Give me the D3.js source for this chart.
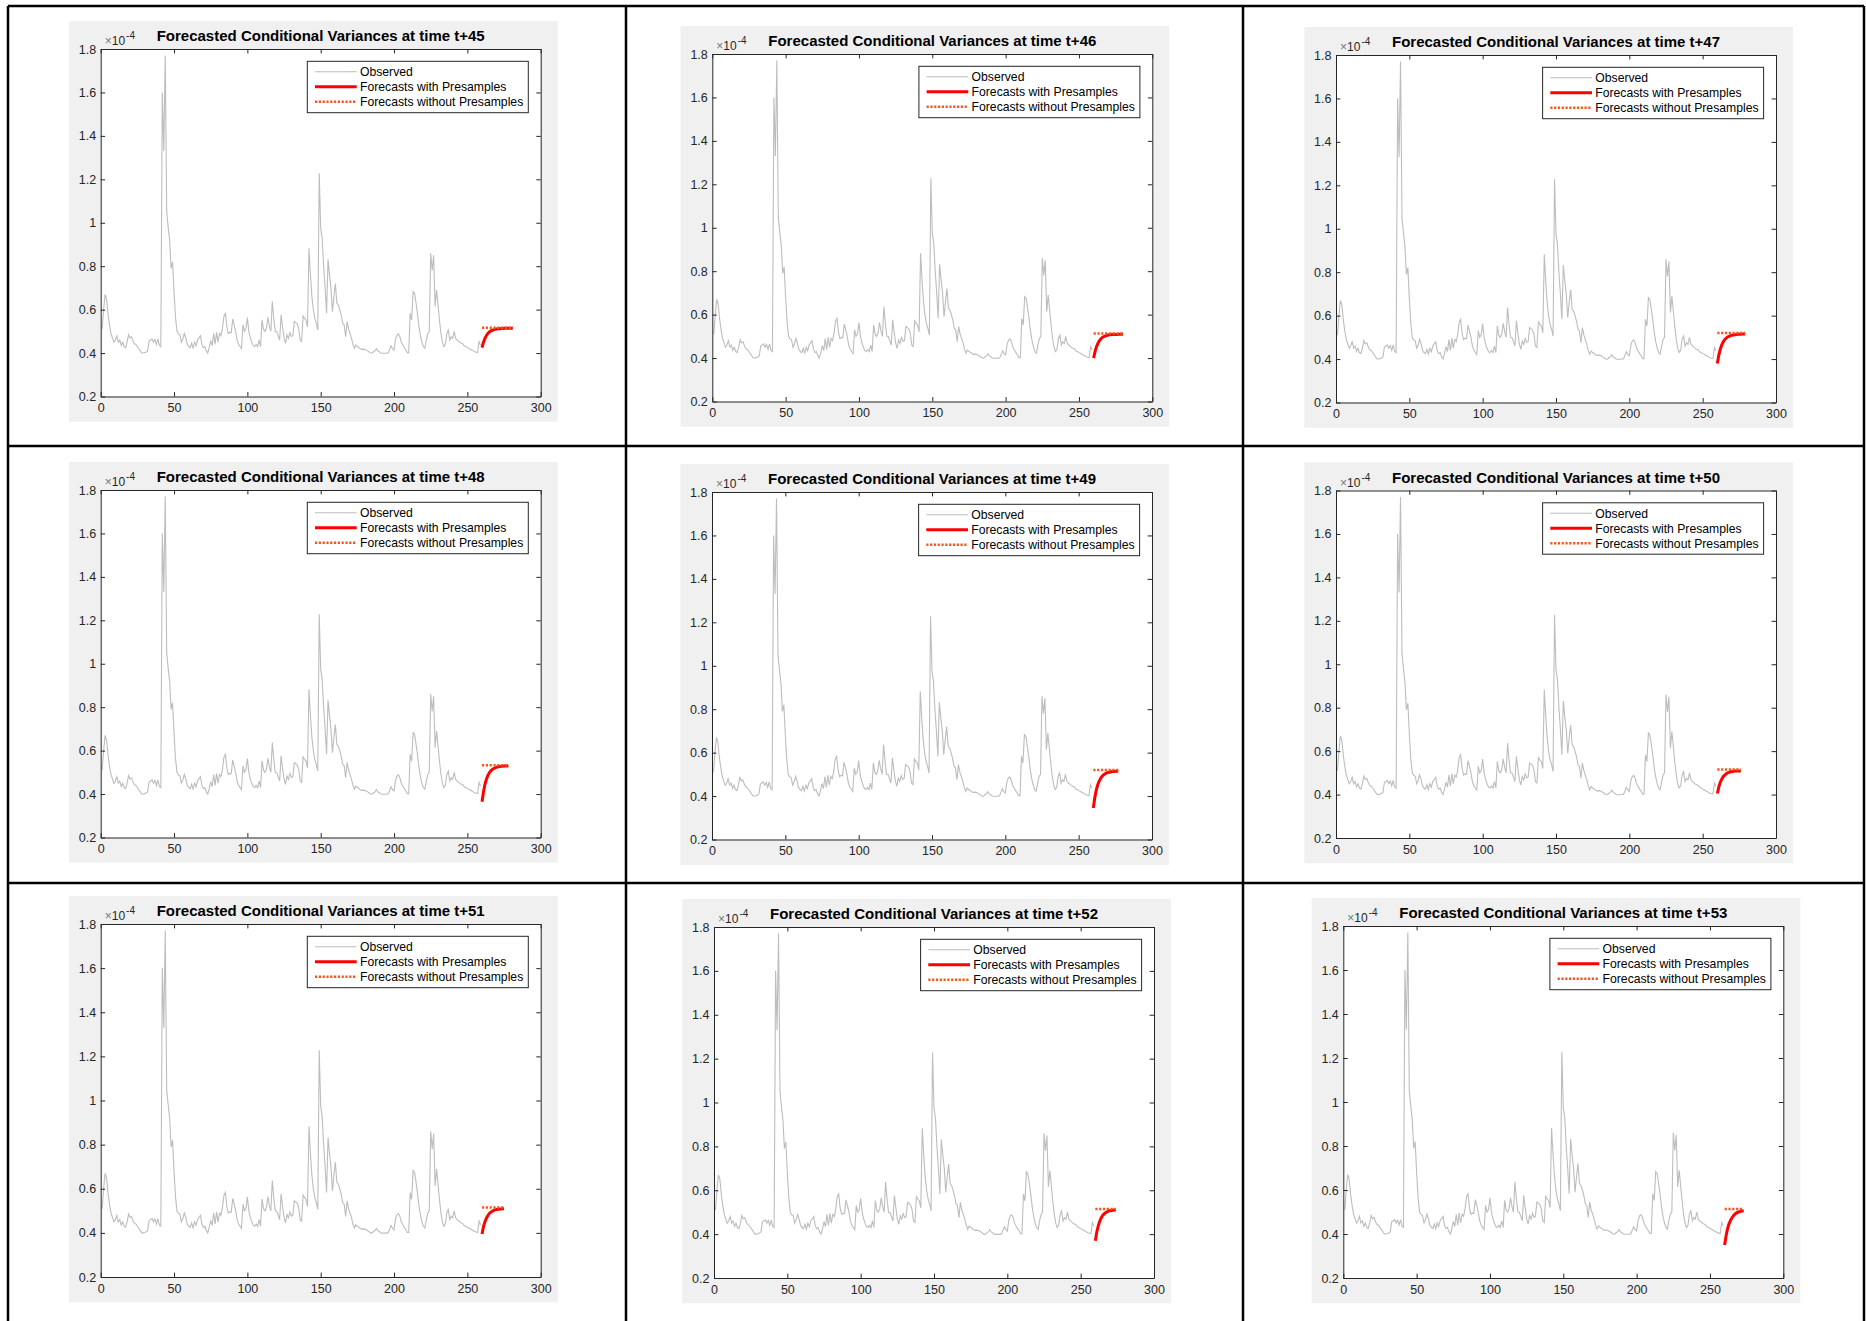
<!DOCTYPE html>
<html>
<head>
<meta charset="utf-8">
<script src="https://cdn.jsdelivr.net/npm/d3@7"></script>
<style>
  html, body { margin: 0; padding: 0; background: #fff; }
  svg { display: block; font-family: "Liberation Sans", Arial, Helvetica, sans-serif; }
</style>
</head>
<body>
<svg id="chart" width="1866" height="1321"></svg>
<script>
// ======================
// 1. DATA (values in units of 1e-4)
// ======================
// observed conditional variances, t = 1..259
const observed = [
  0.51, 0.60, 0.67, 0.65, 0.58, 0.53, 0.49, 0.47, 0.45, 0.46,
  0.48, 0.45, 0.46, 0.435, 0.45, 0.43, 0.425, 0.45, 0.485, 0.47,
  0.475, 0.455, 0.443, 0.44, 0.43, 0.42, 0.41, 0.40, 0.40, 0.402,
  0.405, 0.41, 0.455, 0.46, 0.465, 0.45, 0.463, 0.44, 0.465, 0.435,
  0.43, 1.60, 1.33, 1.77, 1.05, 0.98, 0.92, 0.79, 0.82, 0.68,
  0.565, 0.50, 0.488, 0.485, 0.45, 0.465, 0.49, 0.47, 0.44, 0.43,
  0.425, 0.445, 0.423, 0.45, 0.434, 0.46, 0.47, 0.48, 0.44, 0.425,
  0.43, 0.41, 0.40, 0.425, 0.457, 0.434, 0.49, 0.44, 0.495, 0.45,
  0.49, 0.48, 0.514, 0.57, 0.583, 0.52, 0.49, 0.495, 0.494, 0.556,
  0.53, 0.50, 0.46, 0.44, 0.43, 0.42, 0.53, 0.50, 0.51, 0.563,
  0.50, 0.47, 0.45, 0.434, 0.43, 0.44, 0.43, 0.46, 0.43, 0.553,
  0.51, 0.50, 0.514, 0.565, 0.525, 0.50, 0.637, 0.56, 0.50, 0.499,
  0.48, 0.46, 0.576, 0.52, 0.47, 0.445, 0.483, 0.468, 0.494, 0.476,
  0.48, 0.545, 0.54, 0.534, 0.514, 0.46, 0.453, 0.571, 0.56, 0.552,
  0.52, 0.882, 0.76, 0.66, 0.598, 0.56, 0.537, 0.506, 1.228, 0.974,
  0.928, 0.80, 0.70, 0.583, 0.832, 0.76, 0.70, 0.59, 0.66, 0.72,
  0.63, 0.621, 0.60, 0.575, 0.537, 0.53, 0.475, 0.545, 0.51, 0.49,
  0.468, 0.44, 0.422, 0.437, 0.43, 0.426, 0.42, 0.417, 0.418, 0.417,
  0.414, 0.41, 0.405, 0.40, 0.399, 0.406, 0.41, 0.42, 0.41, 0.406,
  0.40, 0.399, 0.399, 0.399, 0.40, 0.40, 0.417, 0.433, 0.42, 0.414,
  0.463, 0.483, 0.488, 0.475, 0.45, 0.437, 0.425, 0.415, 0.402, 0.402,
  0.583, 0.552, 0.683, 0.675, 0.63, 0.58, 0.522, 0.48, 0.45, 0.43,
  0.422, 0.46, 0.49, 0.50, 0.86, 0.78, 0.85, 0.614, 0.69, 0.621,
  0.55, 0.49, 0.45, 0.43, 0.44, 0.49, 0.506, 0.46, 0.475, 0.468,
  0.50, 0.468, 0.46, 0.455, 0.448, 0.445, 0.442, 0.432, 0.43, 0.425,
  0.422, 0.418, 0.414, 0.41, 0.406, 0.404, 0.402, 0.453, 0.437
];

const horizons = [45, 46, 47, 48, 49, 50, 51, 52, 53];
const forecastStart = 260;

// forecasts with presamples, one list per panel, starting at t = 260
const withPresamples = [
  [0.425, 0.450, 0.468, 0.481, 0.490, 0.497, 0.502, 0.505, 0.508, 0.509, 0.511, 0.512, 0.512, 0.513, 0.513, 0.514, 0.514, 0.514, 0.514, 0.514, 0.514, 0.514],
  [0.400, 0.431, 0.453, 0.469, 0.480, 0.489, 0.495, 0.499, 0.502, 0.504, 0.506, 0.507, 0.508, 0.508, 0.509, 0.509, 0.509, 0.510, 0.510, 0.510, 0.510],
  [0.380, 0.418, 0.445, 0.465, 0.479, 0.489, 0.496, 0.502, 0.505, 0.508, 0.510, 0.511, 0.512, 0.513, 0.514, 0.514, 0.514, 0.515, 0.515, 0.515],
  [0.365, 0.411, 0.445, 0.468, 0.486, 0.498, 0.507, 0.513, 0.518, 0.521, 0.524, 0.526, 0.527, 0.528, 0.528, 0.529, 0.529, 0.529, 0.530],
  [0.345, 0.393, 0.427, 0.452, 0.469, 0.482, 0.491, 0.498, 0.503, 0.506, 0.509, 0.510, 0.512, 0.513, 0.513, 0.514, 0.514, 0.514],
  [0.405, 0.434, 0.456, 0.471, 0.482, 0.490, 0.495, 0.500, 0.502, 0.505, 0.506, 0.507, 0.508, 0.508, 0.509, 0.509, 0.509],
  [0.395, 0.428, 0.451, 0.467, 0.479, 0.488, 0.494, 0.498, 0.502, 0.504, 0.506, 0.507, 0.508, 0.508, 0.509, 0.509],
  [0.370, 0.410, 0.438, 0.459, 0.474, 0.485, 0.492, 0.498, 0.502, 0.505, 0.507, 0.508, 0.509, 0.510, 0.511],
  [0.350, 0.392, 0.424, 0.446, 0.462, 0.474, 0.483, 0.490, 0.495, 0.499, 0.501, 0.503, 0.505, 0.506]
];

// forecasts without presamples (flat level), one per panel
const withoutPresamples = [0.517, 0.513, 0.520, 0.533, 0.520, 0.515, 0.515, 0.515, 0.514];

const xTicks = [0, 50, 100, 150, 200, 250, 300];
const yTicks = [0.2, 0.4, 0.6, 0.8, 1.0, 1.2, 1.4, 1.6, 1.8];
const legendLabels = ["Observed", "Forecasts with Presamples", "Forecasts without Presamples"];

// ======================
// 2. LAYOUT
// ======================
const gridX = [8, 626, 1243, 1864];
const gridY = [6, 446, 883];
// left, top and height of each axes box
const panelBox = [
  [100.7, 49, 347.5], [712.3, 54, 347.5], [1336, 55, 347.5],
  [100.7, 490, 347.5], [712, 492, 347.5], [1336, 490.5, 347.5],
  [100.7, 924, 353], [714, 927, 351], [1343.3, 926, 352]
];
const plotW = 440;
const tickLen = 4.4;

const colors = {
  figure: "#f0f0f0",
  axis: "#262626",
  observed: "#bdbdbd",
  withPre: "#ff0000",
  withoutPre: "#f4561e"
};

const svg = d3.select("#chart");
const x = d3.scaleLinear().domain([0, 300]).range([0, plotW]);
const yFmt = d => String(+d.toFixed(1));

// ======================
// 3. PANELS
// ======================
panelBox.forEach((b, i) => {
  const plotH = b[2];
  const y = d3.scaleLinear().domain([0.2, 1.8]).range([plotH, 0]);
  const line = d3.line().x(d => x(d[0])).y(d => y(d[1]));

  const g = svg.append("g").attr("transform", `translate(${b[0]},${b[1]})`);

  // figure background + axes area
  g.append("rect")
    .attr("x", -31.7).attr("y", -28)
    .attr("width", 488.7).attr("height", plotH + 53.2)
    .attr("fill", colors.figure);
  g.append("rect")
    .attr("width", plotW).attr("height", plotH)
    .attr("fill", "#fff");

  // series
  g.append("path")
    .datum(observed.map((v, k) => [k + 1, v]))
    .attr("d", line)
    .attr("fill", "none")
    .attr("stroke", colors.observed)
    .attr("stroke-width", 1.1);

  const fc = withPresamples[i];
  const fcEnd = forecastStart + fc.length - 1;

  g.append("path")
    .datum(fc.map((v, k) => [forecastStart + k, v]))
    .attr("d", line)
    .attr("fill", "none")
    .attr("stroke", colors.withPre)
    .attr("stroke-width", 3);

  g.append("path")
    .datum([[forecastStart, withoutPresamples[i]], [fcEnd, withoutPresamples[i]]])
    .attr("d", line)
    .attr("fill", "none")
    .attr("stroke", colors.withoutPre)
    .attr("stroke-width", 2.5)
    .attr("stroke-dasharray", "2.2,1.6");

  // axes (ticks inward on all four sides)
  const axB = g.append("g")
    .attr("transform", `translate(0,${plotH})`)
    .call(d3.axisBottom(x).tickValues(xTicks).tickSizeInner(-tickLen).tickSizeOuter(0).tickPadding(7));
  const axL = g.append("g")
    .call(d3.axisLeft(y).tickValues(yTicks).tickFormat(yFmt).tickSizeInner(-tickLen).tickSizeOuter(0).tickPadding(4.5));
  const axT = g.append("g")
    .call(d3.axisTop(x).tickValues(xTicks).tickFormat("").tickSizeInner(-tickLen).tickSizeOuter(0));
  const axR = g.append("g")
    .attr("transform", `translate(${plotW},0)`)
    .call(d3.axisRight(y).tickValues(yTicks).tickFormat("").tickSizeInner(-tickLen).tickSizeOuter(0));

  [axB, axL, axT, axR].forEach(a => {
    a.selectAll("path, line").attr("stroke", colors.axis).attr("stroke-width", 1);
    a.selectAll("text")
      .attr("fill", colors.axis)
      .style("font-size", "12.5px")
      .style("font-family", "'Liberation Sans', Arial, sans-serif");
  });

  // exponent label
  const ex = g.append("text")
    .attr("x", 4).attr("y", -4)
    .attr("fill", colors.axis)
    .style("font-size", "12px");
  ex.append("tspan").attr("fill", "#777").text("\u00d7");
  ex.append("tspan").text("10");
  ex.append("tspan").attr("dy", -6).attr("dx", 1).style("font-size", "10px").text("-4");

  // title
  g.append("text")
    .attr("x", plotW / 2).attr("y", -8)
    .attr("text-anchor", "middle")
    .style("font-size", "15px")
    .style("font-weight", "bold")
    .attr("fill", "#000")
    .text(`Forecasted Conditional Variances at time t+${horizons[i]}`);

  // legend
  const lg = g.append("g").attr("transform", "translate(206.6,12.3)");
  lg.append("rect")
    .attr("width", 221).attr("height", 51.4)
    .attr("fill", "#fff")
    .attr("stroke", colors.axis)
    .attr("stroke-width", 1);

  const entries = lg.selectAll(".entry")
    .data(legendLabels)
    .enter()
    .append("g")
    .attr("class", "entry")
    .attr("transform", (d, k) => `translate(0,${10.4 + k * 15})`);

  entries.append("line")
    .attr("x1", 7.7).attr("x2", 49.4)
    .attr("stroke", (d, k) => [colors.observed, colors.withPre, colors.withoutPre][k])
    .attr("stroke-width", (d, k) => [1.1, 3, 2.5][k])
    .attr("stroke-dasharray", (d, k) => k === 2 ? "2.2,1.6" : null);

  entries.append("text")
    .attr("x", 52.7).attr("y", 4.3)
    .style("font-size", "12.2px")
    .attr("fill", "#000")
    .text(d => d);
});

// ======================
// 4. TABLE GRID
// ======================
gridX.forEach(gx => {
  svg.append("line")
    .attr("x1", gx).attr("x2", gx)
    .attr("y1", gridY[0]).attr("y2", 1321)
    .attr("stroke", "#000").attr("stroke-width", 2.5);
});
gridY.forEach(gy => {
  svg.append("line")
    .attr("x1", gridX[0]).attr("x2", gridX[3])
    .attr("y1", gy).attr("y2", gy)
    .attr("stroke", "#000").attr("stroke-width", 2.5);
});
</script>
</body>
</html>
